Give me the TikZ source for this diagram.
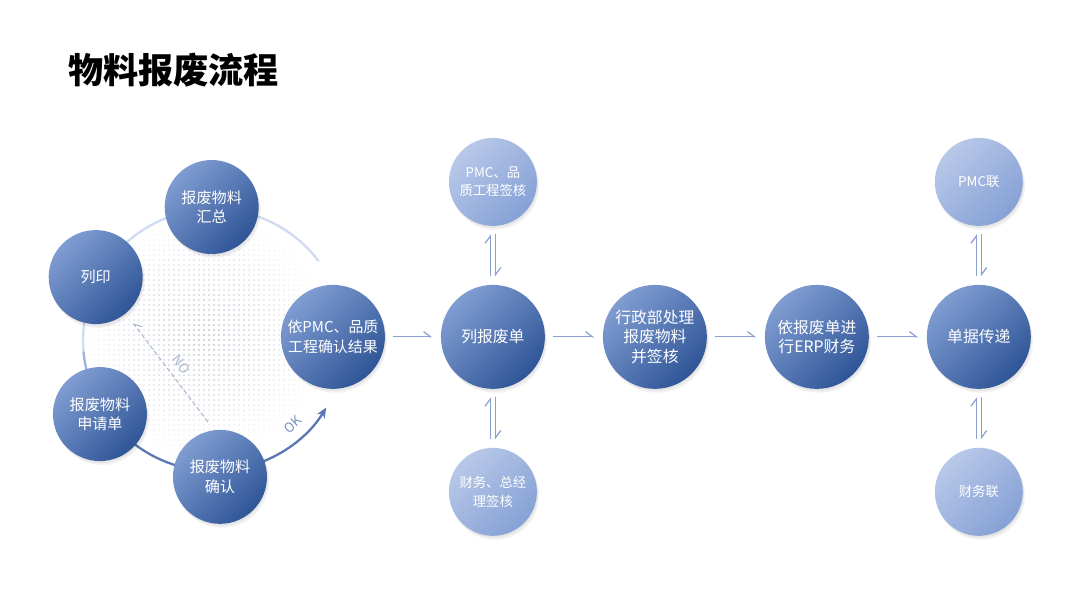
\documentclass[tikz,border=0pt]{standalone}
\usepackage{fontspec}
\newfontfamily\cjk{Noto Sans CJK SC}
\usepackage{tikz}
\usetikzlibrary{arrows.meta, positioning, calc, backgrounds}

\definecolor{deepblue}{HTML}{2F5597}
\definecolor{midblue}{HTML}{809DD2}
\definecolor{paleblue}{HTML}{B8C8E8}
\definecolor{softblue}{HTML}{86A1D6}
\definecolor{ringlight}{HTML}{D0DBEF}
\definecolor{ringmid}{HTML}{9DB2DB}
\definecolor{ringdark}{HTML}{5A77B2}
\definecolor{linkblue}{HTML}{89A1D0}
\definecolor{nogray}{HTML}{A9B7D1}
\definecolor{dotgray}{HTML}{B3BAC8}

\begin{document}
\begin{tikzpicture}[
  x=0.02cm, y=0.02cm,
  node distance=1.16cm,
  bigstep/.style={circle, minimum size=2.08cm, inner sep=0pt, outer sep=0pt, align=center, text=white,
    top color=midblue, bottom color=deepblue, shading angle=45,
    preaction={fill=black, opacity=0.05, transform canvas={xshift=1.2pt, yshift=-2.2pt}},
    preaction={fill=black, opacity=0.05, transform canvas={xshift=0.6pt, yshift=-1.1pt}},
    font=\cjk\fontsize{9}{11}\selectfont},
  cycstep/.style={bigstep, minimum size=1.88cm, font=\cjk\fontsize{8.6}{11}\selectfont},
  sidestep/.style={bigstep, minimum size=1.76cm, top color=paleblue, bottom color=softblue, shading angle=45,
    font=\cjk\fontsize{7.6}{10.5}\selectfont},
  link/.style={linkblue, line width=0.7pt, shorten <=0.17cm, shorten >=0.17cm,
    -{Straight Barb[left, length=4pt, width=6pt]}},
  ringline/.style={line width=1.3pt},
]
\useasboundingbox (0,0) rectangle (1080,608);

\node[anchor=west, font=\cjk\bfseries\fontsize{20}{24}\selectfont] (title) at (62,538) {物料报废流程};

% left cycle
\coordinate (ring) at (214,268);
\node[cycstep] (summary) at ($(ring)+(91:133)$) {报废物料\\汇总};
\node[cycstep] (print) at ($(ring)+(152:134)$) {列印};
\node[cycstep] (apply) at ($(ring)+(213:136)$) {报废物料\\申请单};
\node[cycstep] (check) at ($(ring)+(272.5:137)$) {报废物料\\确认};
\node[bigstep, font=\cjk\fontsize{8.5}{11}\selectfont] (result) at ($(ring)+(1.5:119)$) {依PMC、品质\\工程确认结果};

% main flow
\node[bigstep, right=1.12cm of result] (sheet) {列报废单};
\node[bigstep, right=of sheet] (admin) {行政部处理\\报废物料\\并签核};
\node[bigstep, right=of admin] (erp) {依报废单进\\行ERP财务};
\node[bigstep, right=of erp] (relay) {单据传递};
\node[sidestep, above=1.18cm of sheet] (qa) {PMC、品\\质工程签核};
\node[sidestep, below=1.18cm of sheet] (fin) {财务、总经\\理签核};
\node[sidestep, above=1.18cm of relay] (pmc) {PMC联};
\node[sidestep, below=1.18cm of relay] (fcopy) {财务联};

\draw[link] (result) -- (sheet);
\draw[link] (sheet) -- (admin);
\draw[link] (admin) -- (erp);
\draw[link] (erp) -- (relay);

\draw[link] ([xshift=-1.5pt]sheet.north) -- ([xshift=-1.5pt]qa.south);
\draw[link] ([xshift=1.5pt]qa.south) -- ([xshift=1.5pt]sheet.north);
\draw[link] ([xshift=-1.5pt]fin.north) -- ([xshift=-1.5pt]sheet.south);
\draw[link] ([xshift=1.5pt]sheet.south) -- ([xshift=1.5pt]fin.north);
\draw[link] ([xshift=-1.5pt]relay.north) -- ([xshift=-1.5pt]pmc.south);
\draw[link] ([xshift=1.5pt]pmc.south) -- ([xshift=1.5pt]relay.north);
\draw[link] ([xshift=-1.5pt]fcopy.north) -- ([xshift=-1.5pt]relay.south);
\draw[link] ([xshift=1.5pt]relay.south) -- ([xshift=1.5pt]fcopy.north);

\begin{scope}[on background layer]
  \fill[white] (0,0) rectangle (1080,608);
  % halftone dots
  \foreach \i in {-24,...,24}{
    \foreach \j in {-24,...,24}{
      \pgfmathsetmacro\dd{veclen(\i,\j)*5}
      \pgfmathsetmacro\op{max(0,0.85*(1-\dd/124))}
      \fill[dotgray, opacity=\op, shift={(ring)}] (\i*5-10,\j*5+5) circle[radius=0.65pt];
    }}
  \draw[ringlight, ringline] ($(ring)+(37:131)$) arc[start angle=37, end angle=185, radius=2.62cm];
  \draw[ringmid, ringline] ($(ring)+(185:131)$) arc[start angle=185, end angle=225, radius=2.62cm];
  \draw[ringdark, ringline, -{Stealth[length=6pt, width=5pt]}] ($(ring)+(225:131)$) arc[start angle=225, end angle=329, radius=2.62cm];
\end{scope}

\coordinate (nofoot) at (208,186);
\coordinate (nohead) at (133,285);
\draw[nogray, line width=0.6pt, dash pattern=on 2.5pt off 1.5pt, -{Straight Barb[right, length=4pt, width=6pt]}]
  (nofoot) -- (nohead) node[pos=0.5, sloped, above=1pt, font=\cjk\fontsize{7.5}{9}\selectfont] (no) {NO};
\node[text=ringdark!80, rotate=43, font=\cjk\fontsize{7.5}{9}\selectfont] (ok) at ($(ring)+(-47:116)$) {OK};

\end{tikzpicture}
\end{document}
